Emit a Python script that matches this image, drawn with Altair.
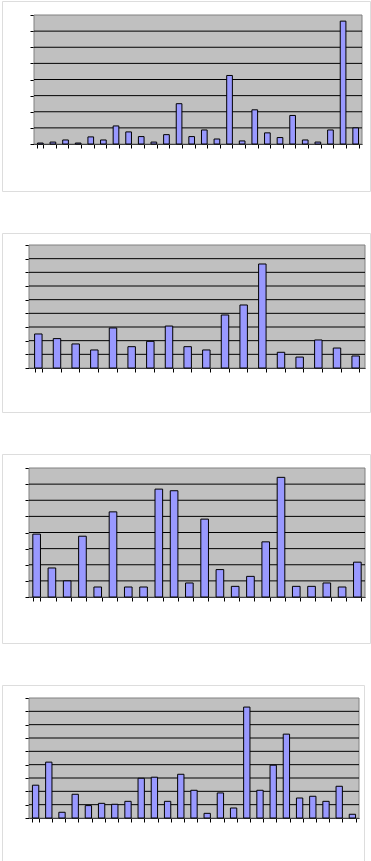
import altair as alt
import pandas as pd

# --- data (units = gridline steps) ---
VALUES_1 = [0.06, 0.12, 0.25, 0.06, 0.44, 0.25, 1.12, 0.75, 0.46, 0.12, 0.58, 2.5, 0.46,
            0.87, 0.31, 4.25, 0.19, 2.12, 0.69, 0.4, 1.77, 0.25, 0.12, 0.87, 7.62, 1.0]
VALUES_2 = [2.49, 2.15, 1.76, 1.32, 2.93, 1.56, 1.95, 3.07, 1.56, 1.32, 3.88, 4.61, 7.61,
            1.15, 0.8, 2.05, 1.46, 0.88]
VALUES_3 = [3.9, 1.8, 1.0, 3.77, 0.62, 5.28, 0.62, 0.62, 6.69, 6.59, 0.87, 4.83, 1.7, 0.66,
            1.28, 3.42, 7.42, 0.66, 0.66, 0.87, 0.62, 2.16]
VALUES_4 = [2.46, 4.19, 0.43, 1.78, 0.93, 1.1, 1.03, 1.25, 2.98, 3.06, 1.25, 3.28, 2.08, 0.35,
            1.88, 0.75, 8.32, 2.08, 3.96, 6.29, 1.5, 1.63, 1.25, 2.38, 0.28]

AXIS_MAX = [8, 9, 8, 9]
GRID_1 = [1, 2, 3, 4, 5, 6, 7]
GRID_2 = [1, 2, 3, 4, 5, 6, 7, 8]
GRID_3 = [1, 2, 3, 4, 5, 6, 7]
GRID_4 = [1, 2, 3, 4, 5, 6, 7, 8]
TICKS_8 = [0, 1, 2, 3, 4, 5, 6, 7, 8]
TICKS_9 = [0, 1, 2, 3, 4, 5, 6, 7, 8, 9]

BAR = "#9999FF"
PLOT_BG = "#C0C0C0"
PLOT_BORDER = "#808080"


def panel(vals, grid, ticks, ymax, w, h, x0, x1, y0, y1, pad):
    df = pd.DataFrame({"c": list(range(len(vals))), "v": vals})
    gdf = pd.DataFrame({"g": grid})
    xscale = alt.Scale(range=[x0, x1], paddingInner=pad, paddingOuter=pad / 2)
    yscale = alt.Scale(domain=[0, ymax], range=[y1, y0], nice=False, zero=True)
    yaxis = alt.Axis(title=None, labels=False, domain=True, domainColor="black",
                     grid=False, ticks=True, tickSize=4, tickColor="black",
                     values=ticks, offset=-x0)
    xaxis = alt.Axis(title=None, labels=False, domain=True, domainColor="black",
                     grid=False, ticks=True, tickSize=4, tickColor="black",
                     tickBand="extent", offset=-(h - y1))
    bg = alt.Chart(alt.Data(values=[{"k": 0}])).mark_rect(
        fill=PLOT_BG, stroke=PLOT_BORDER, strokeWidth=1
    ).encode(x=alt.value(x0), x2=alt.value(x1), y=alt.value(y0), y2=alt.value(y1))
    rules = alt.Chart(gdf).mark_rule(color="black", strokeWidth=1).encode(
        y=alt.Y("g:Q", scale=yscale, axis=yaxis),
        x=alt.value(x0), x2=alt.value(x1),
    )
    bars = alt.Chart(df).mark_bar(fill=BAR, stroke="black", strokeWidth=1).encode(
        x=alt.X("c:O", scale=xscale, axis=xaxis),
        y=alt.Y("v:Q", scale=yscale, axis=yaxis),
    )
    return alt.layer(bg, rules, bars).properties(width=w, height=h)


p1 = panel(VALUES_1, GRID_1, TICKS_8, AXIS_MAX[0], 368, 190, 32, 360, 14, 143, 0.55)
p2 = panel(VALUES_2, GRID_2, TICKS_9, AXIS_MAX[1], 368, 179, 27, 363, 12, 135, 0.6)
p3 = panel(VALUES_3, GRID_3, TICKS_8, AXIS_MAX[2], 368, 189, 27, 363, 14, 143, 0.5)
p4 = panel(VALUES_4, GRID_4, TICKS_9, AXIS_MAX[3], 362, 177, 27, 357, 13, 133, 0.52)

chart = alt.vconcat(p1, p2, p3, p4, spacing=42, bounds="flush").properties(
    padding={"left": 1, "top": 0, "right": 0, "bottom": 0}
).configure_view(stroke="black", strokeWidth=1, fill="white").configure(background="white")

chart.save("out.html", embed_options={"renderer": "svg", "actions": False})
